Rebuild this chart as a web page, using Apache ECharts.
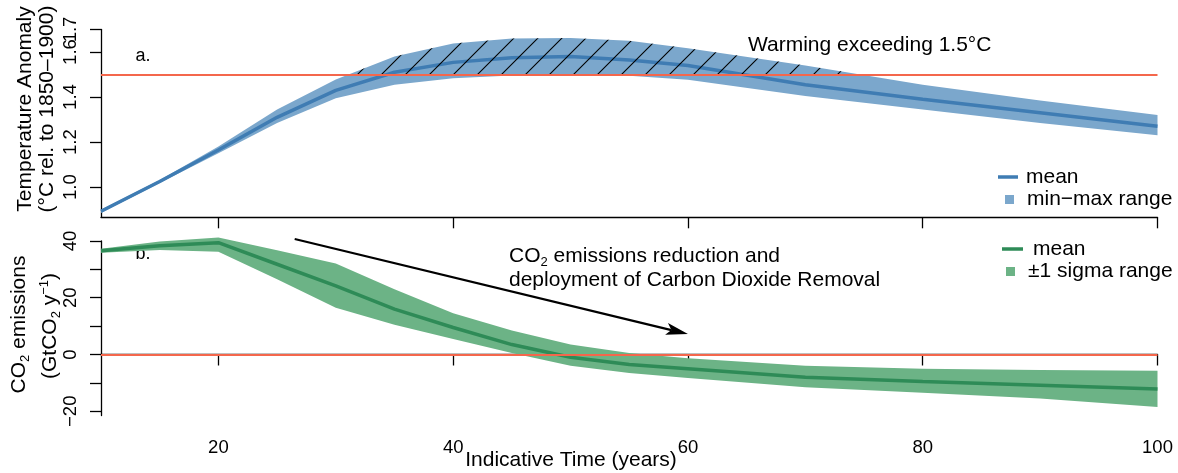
<!DOCTYPE html>
<html><head><meta charset="utf-8">
<script src="https://cdn.jsdelivr.net/npm/echarts@6/dist/echarts.min.js"></script>
<style>html,body{margin:0;padding:0;background:#fff}#c{width:1178px;height:473px}</style>
</head><body><div id="c"></div>
<script>
// ---- data ----
const years = [10, 15, 20, 25, 30, 35, 40, 45, 50, 55, 60, 70, 80, 90, 100];
const tempMean = [0.893, 1.025, 1.165, 1.31, 1.43, 1.51, 1.554, 1.575, 1.58, 1.565, 1.54, 1.455, 1.39, 1.33, 1.27];
const tempMax  = [0.90, 1.032, 1.18, 1.345, 1.478, 1.58, 1.638, 1.66, 1.662, 1.65, 1.617, 1.54, 1.455, 1.385, 1.32];
const tempMin  = [0.885, 1.018, 1.15, 1.285, 1.395, 1.455, 1.484, 1.496, 1.498, 1.495, 1.477, 1.405, 1.345, 1.285, 1.23];
const co2Mean  = [36.6, 38.3, 39.4, 31.8, 24.2, 16.0, 9.5, 3.5, -1.0, -3.5, -5.0, -8.0, -9.5, -10.8, -12.2];
const co2Upper = [37.3, 39.8, 41.2, 36.7, 32.1, 23.0, 14.5, 8.5, 3.5, 0.5, -1.3, -4.0, -5.0, -5.5, -5.7];
const co2Lower = [35.9, 36.8, 36.2, 26.5, 16.5, 10.5, 5.5, 0.5, -4.0, -6.5, -8.3, -11.5, -13.5, -15.5, -18.5];
const tempTicks = [1.0, 1.2, 1.4, 1.6];
const tempTopTick = [1.7];
const co2Ticks = [-20, -10, 0, 10, 20, 30, 40];
const co2Labels = [-20, 0, 20, 40];
const timeTicks = [20, 40, 60, 80, 100];
const tempThreshold = 1.5;
const co2Zero = 0;
const arrowStart = [26.5, 40.7];
const arrowEnd = [60.0, 7.2];

// ---- helpers ----
const FONT = 'Liberation Sans, Arial, Helvetica, sans-serif';
const BLUE_BAND = '#7ba7cc', BLUE_LINE = '#3f7cb3';
const GREEN_BAND = '#6cb386', GREEN_LINE = '#2e8b57';
const RED = '#f4674c';
const pair = (xs, ys) => xs.map((x, i) => [x, ys[i]]);

// hatch pattern
const pat = document.createElement('canvas');
pat.width = 24; pat.height = 24;
const g = pat.getContext('2d');
g.strokeStyle = '#000'; g.lineWidth = 1.1;
g.beginPath();
g.moveTo(-2, 26); g.lineTo(26, -2);
g.moveTo(-2, 2); g.lineTo(2, -2);
g.moveTo(22, 26); g.lineTo(26, 22);
g.stroke();

function hatchPoints() {
  const pts = [];
  for (let i = 0; i < years.length; i++) {
    const u = tempMax[i];
    if (i > 0) {
      const u0 = tempMax[i - 1];
      if ((u0 - tempThreshold) * (u - tempThreshold) < 0) {
        const t = (tempThreshold - u0) / (u - u0);
        pts.push([years[i - 1] + t * (years[i] - years[i - 1]), tempThreshold]);
      }
    }
    if (u >= tempThreshold) pts.push([years[i], u]);
  }
  return pts;
}

function bandRenderer(up, lo, color) {
  return function (params, api) {
    const pts = [];
    for (let i = 0; i < years.length; i++) pts.push(api.coord([years[i], up[i]]));
    for (let i = years.length - 1; i >= 0; i--) pts.push(api.coord([years[i], lo[i]]));
    return { type: 'polygon', shape: { points: pts }, style: { fill: color, stroke: null } };
  };
}

function arrowRenderer(params, api) {
  const a = api.coord(arrowStart), b = api.coord(arrowEnd);
  const dx = b[0] - a[0], dy = b[1] - a[1];
  const L = Math.hypot(dx, dy), ux = dx / L, uy = dy / L, nx = -uy, ny = ux;
  const headLen = 22, headHalf = 6, notch = 5;
  const base = [b[0] - ux * headLen, b[1] - uy * headLen];
  const notchPt = [b[0] - ux * (headLen - notch), b[1] - uy * (headLen - notch)];
  return { type: 'group', children: [
    { type: 'line', shape: { x1: a[0], y1: a[1], x2: notchPt[0], y2: notchPt[1] },
      style: { stroke: '#000', lineWidth: 2.2 } },
    { type: 'polygon', shape: { points: [
        [b[0], b[1]],
        [base[0] + nx * headHalf, base[1] + ny * headHalf],
        notchPt,
        [base[0] - nx * headHalf, base[1] - ny * headHalf]] },
      style: { fill: '#000', stroke: null } }
  ] };
}

const axisLineStyle = { color: '#000', width: 1.3 };
const tickLabel = { fontFamily: FONT, fontSize: 18.5, color: '#000', hideOverlap: false };

const chart = echarts.init(document.getElementById('c'), null, { renderer: 'canvas' });
const option = {
  animation: false,
  backgroundColor: '#fff',
  grid: [
    { left: 101, top: 29.5, width: 1056.5, height: 187.8, outerBoundsMode: 'none', containLabel: false },
    { left: 101, top: 241, width: 1056.5, height: 174.5, outerBoundsMode: 'none', containLabel: false }
  ],
  xAxis: [
    { type: 'value', gridIndex: 0, min: 10, max: 100, splitLine: { show: false },
      axisLine: { show: true, lineStyle: axisLineStyle },
      axisTick: { show: true, inside: false, length: 11, lineStyle: axisLineStyle, customValues: timeTicks },
      axisLabel: { show: false } },
    { type: 'value', gridIndex: 1, min: 10, max: 100, splitLine: { show: false },
      axisLine: { show: true, lineStyle: axisLineStyle },
      axisTick: { show: true, inside: false, length: 11, lineStyle: axisLineStyle, customValues: timeTicks },
      axisLabel: Object.assign({ show: true, margin: 23, customValues: timeTicks }, tickLabel) }
  ],
  yAxis: [
    { type: 'value', gridIndex: 0, min: 0.866, max: 1.7, splitLine: { show: false },
      axisLine: { show: true, lineStyle: axisLineStyle },
      axisTick: { show: true, inside: false, length: 11, lineStyle: axisLineStyle, customValues: tempTicks },
      axisLabel: Object.assign({ show: true, rotate: 90, margin: 21, customValues: tempTicks,
        formatter: v => Number(v).toFixed(1) }, tickLabel) },
    { type: 'value', gridIndex: 1, min: -21.5, max: 40, splitLine: { show: false },
      axisLine: { show: true, lineStyle: axisLineStyle },
      axisTick: { show: true, inside: false, length: 11, lineStyle: axisLineStyle, customValues: co2Ticks },
      axisLabel: Object.assign({ show: true, rotate: 90, margin: 21, customValues: co2Labels,
        formatter: v => (v < 0 ? '\u2212' + Math.abs(v) : String(v)) }, tickLabel) },
    { type: 'value', gridIndex: 0, position: 'left', offset: 0, min: 0.866, max: 1.7, splitLine: { show: false },
      axisLine: { show: false },
      axisTick: { show: true, inside: false, length: 11, lineStyle: axisLineStyle, customValues: tempTopTick },
      axisLabel: Object.assign({ show: true, rotate: 90, margin: 21, customValues: tempTopTick, showMaxLabel: true,
        formatter: v => Number(v).toFixed(1) }, tickLabel) }
  ],
  legend: [
    { data: [{ name: 'mean', icon: 'rect', itemStyle: { color: BLUE_LINE, borderWidth: 0 } }],
      left: 998, top: 166.5, padding: 0, itemWidth: 20, itemHeight: 3.5, selectedMode: false,
      textStyle: { fontFamily: FONT, fontSize: 21, color: '#000', padding: [0, 0, 0, 3] } },
    { data: [{ name: 'min\u2212max range', icon: 'rect', itemStyle: { color: BLUE_BAND, borderWidth: 0 } }],
      left: 1005, top: 189, padding: 0, itemWidth: 9, itemHeight: 9, selectedMode: false,
      textStyle: { fontFamily: FONT, fontSize: 21, color: '#000', padding: [0, 0, 0, 8] } },
    { data: [{ name: 'mean ', icon: 'rect', itemStyle: { color: GREEN_LINE, borderWidth: 0 } }],
      left: 1002, top: 238.5, padding: 0, itemWidth: 21, itemHeight: 3.5, selectedMode: false,
      textStyle: { fontFamily: FONT, fontSize: 21, color: '#000', padding: [0, 0, 0, 5] } },
    { data: [{ name: '\u00b11 sigma range', icon: 'rect', itemStyle: { color: GREEN_BAND, borderWidth: 0 } }],
      left: 1006, top: 261, padding: 0, itemWidth: 9, itemHeight: 9, selectedMode: false,
      textStyle: { fontFamily: FONT, fontSize: 21, color: '#000', padding: [0, 0, 0, 8] } }
  ],
  series: [
    { type: 'custom', name: 'min\u2212max range', xAxisIndex: 0, yAxisIndex: 0, data: [[10, 1]],
      itemStyle: { color: BLUE_BAND }, silent: true, z: 1, clip: false,
      renderItem: bandRenderer(tempMax, tempMin, BLUE_BAND) },
    { type: 'line', name: 'mean', xAxisIndex: 0, yAxisIndex: 0, data: pair(years, tempMean),
      symbol: 'none', lineStyle: { color: BLUE_LINE, width: 3.5 }, itemStyle: { color: BLUE_LINE }, silent: true, z: 2 },
    { type: 'custom', name: '_hatch', xAxisIndex: 0, yAxisIndex: 0, data: [[10, 1]], silent: true, z: 3, clip: false,
      renderItem: function (params, api) {
        const pts = hatchPoints().map(p => api.coord(p));
        return { type: 'polygon', shape: { points: pts },
          style: { fill: { type: 'pattern', image: pat, repeat: 'repeat' }, stroke: null } };
      } },
    { type: 'line', name: '_thr', xAxisIndex: 0, yAxisIndex: 0, data: [], silent: true, z: 4,
      markLine: { silent: true, symbol: ['none', 'none'], label: { show: false },
        lineStyle: { color: RED, width: 2.2, type: 'solid' }, data: [{ yAxis: tempThreshold }] } },

    { type: 'custom', name: '\u00b11 sigma range', xAxisIndex: 1, yAxisIndex: 1, data: [[10, 0]],
      itemStyle: { color: GREEN_BAND }, silent: true, z: 1, clip: false,
      renderItem: bandRenderer(co2Upper, co2Lower, GREEN_BAND) },
    { type: 'line', name: 'mean ', xAxisIndex: 1, yAxisIndex: 1, data: pair(years, co2Mean),
      symbol: 'none', lineStyle: { color: GREEN_LINE, width: 3.5 }, itemStyle: { color: GREEN_LINE }, silent: true, clip: false, z: 2 },
    { type: 'line', name: '_zero', xAxisIndex: 1, yAxisIndex: 1, data: [], silent: true, z: 4,
      markLine: { silent: true, symbol: ['none', 'none'], label: { show: false },
        lineStyle: { color: RED, width: 2.2, type: 'solid' }, data: [{ yAxis: co2Zero }] } },
    { type: 'custom', name: '_arrow', xAxisIndex: 1, yAxisIndex: 1, data: [[30, 30]], silent: true, z: 5, clip: false,
      renderItem: arrowRenderer }
  ],
  graphic: [
    { type: 'text', x: 25, y: 109, rotation: Math.PI / 2, silent: true,
      style: { text: 'Temperature Anomaly', fontFamily: FONT, fontSize: 21, fill: '#000', align: 'center', verticalAlign: 'middle' } },
    { type: 'text', x: 47, y: 109, rotation: Math.PI / 2, silent: true,
      style: { text: '(\u00b0C rel. to 1850\u20131900)', fontFamily: FONT, fontSize: 21, fill: '#000', align: 'center', verticalAlign: 'middle' } },
    { type: 'text', x: 19, y: 324.5, rotation: Math.PI / 2, silent: true,
      style: { text: 'CO{sub|2} emissions', fontFamily: FONT, fontSize: 21, fill: '#000', align: 'center', verticalAlign: 'middle',
        rich: { sub: { fontFamily: FONT, fontSize: 13, fill: '#000', padding: [12, 0, 0, 0] } } } },
    { type: 'text', x: 50, y: 326, rotation: Math.PI / 2, silent: true,
      style: { text: '(GtCO{sub|2} y{sup|\u22121})', fontFamily: FONT, fontSize: 21, fill: '#000', align: 'center', verticalAlign: 'middle',
        rich: { sub: { fontFamily: FONT, fontSize: 13, fill: '#000', padding: [12, 0, 0, 0] },
                sup: { fontFamily: FONT, fontSize: 13, fill: '#000', padding: [0, 0, 12, 0] } } } },
    { type: 'text', x: 571, y: 460.5, silent: true,
      style: { text: 'Indicative Time (years)', fontFamily: FONT, fontSize: 21, fill: '#000', align: 'center', verticalAlign: 'middle' } },
    { type: 'text', x: 143, y: 56, silent: true,
      style: { text: 'a.', fontFamily: FONT, fontSize: 18, fill: '#000', align: 'center', verticalAlign: 'middle' } },
    { type: 'text', x: 143, y: 254, silent: true,
      style: { text: 'b.', fontFamily: FONT, fontSize: 18, fill: '#000', align: 'center', verticalAlign: 'middle' } },
    { type: 'text', x: 748, y: 45, silent: true,
      style: { text: 'Warming exceeding 1.5\u00b0C', fontFamily: FONT, fontSize: 21, fill: '#000', align: 'left', verticalAlign: 'middle' } },
    { type: 'text', x: 509, y: 256.3, silent: true,
      style: { text: 'CO{sub|2} emissions reduction and', fontFamily: FONT, fontSize: 21, fill: '#000', align: 'left', verticalAlign: 'middle',
        rich: { sub: { fontFamily: FONT, fontSize: 13, fill: '#000', padding: [12, 0, 0, 0] } } } },
    { type: 'text', x: 509, y: 280, silent: true,
      style: { text: 'deployment of Carbon Dioxide Removal', fontFamily: FONT, fontSize: 21, fill: '#000', align: 'left', verticalAlign: 'middle' } }
  ]
};
chart.setOption(option);
</script>
</body></html>
